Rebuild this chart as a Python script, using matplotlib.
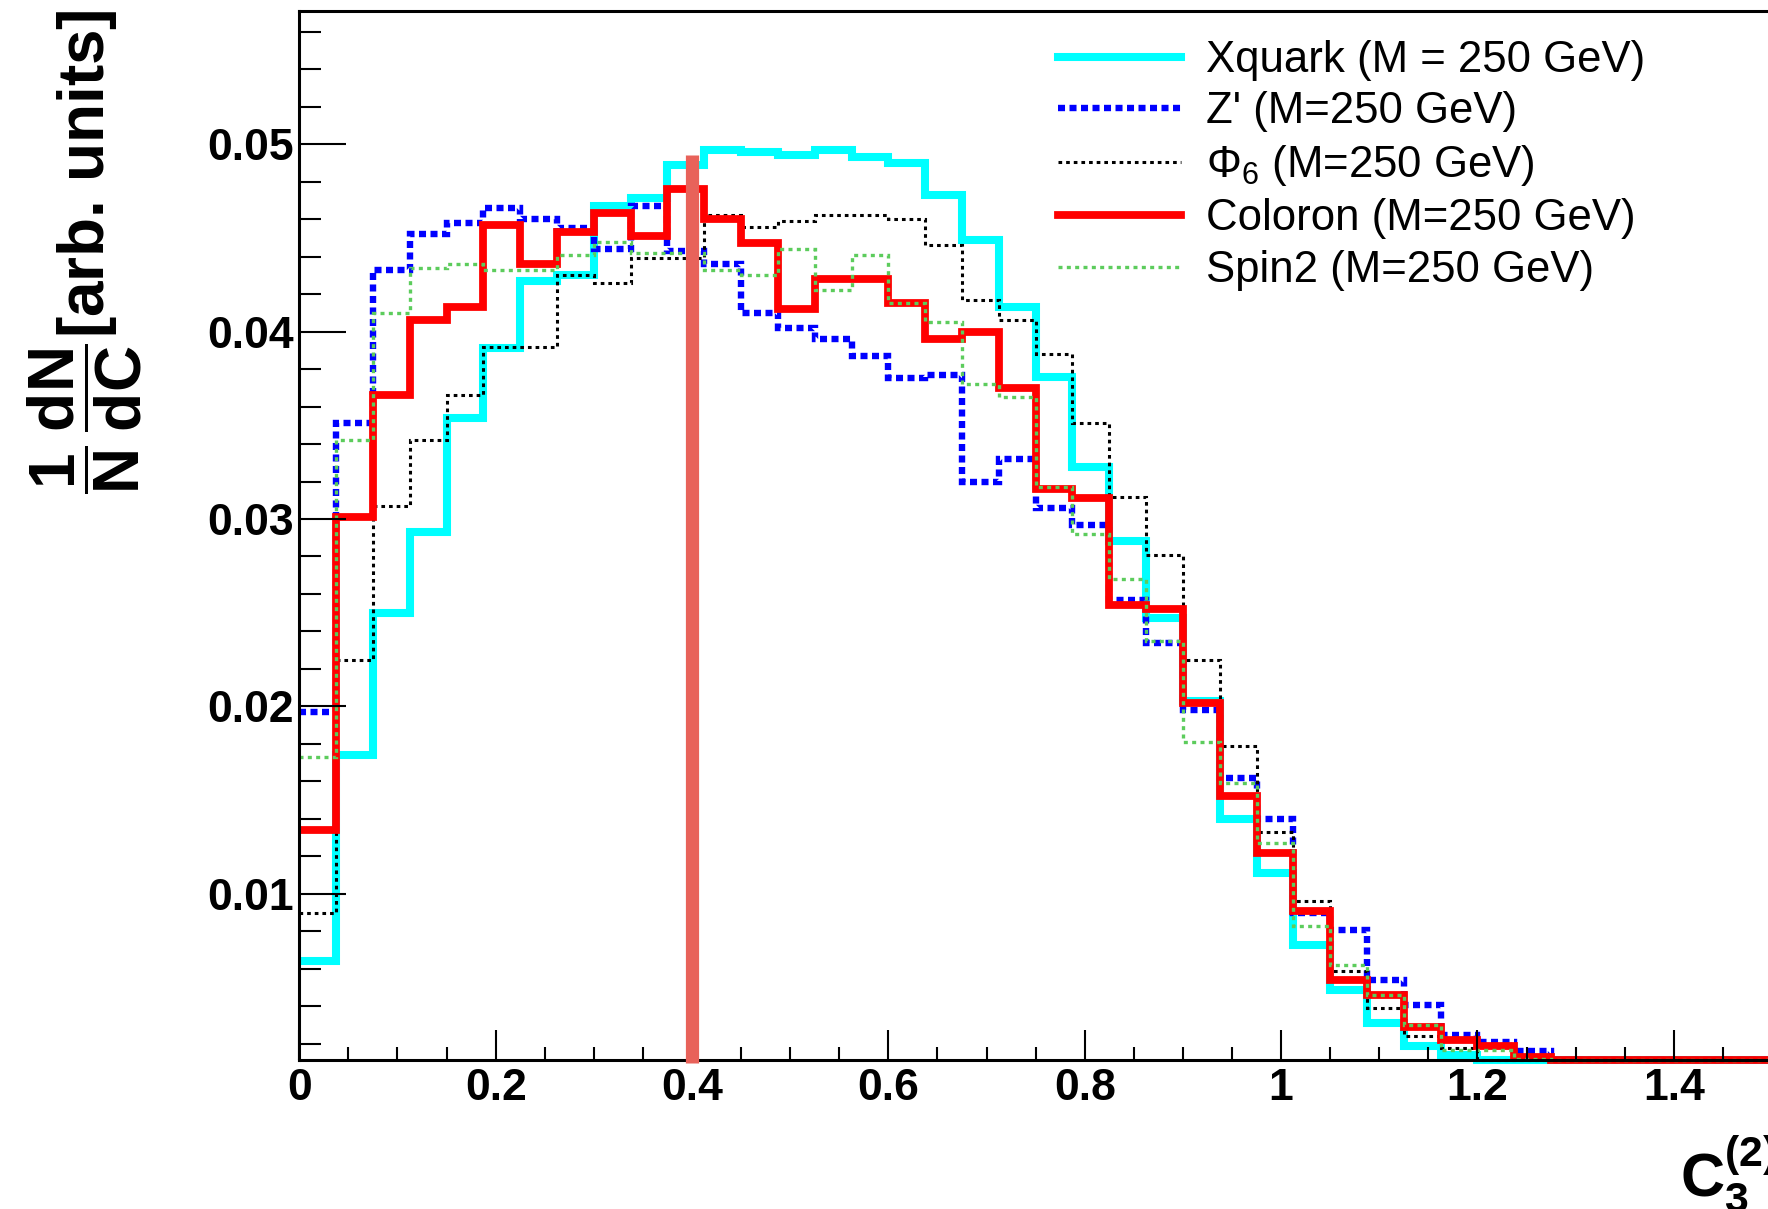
import numpy as np
import matplotlib
matplotlib.use('Agg')
from matplotlib import pyplot as plt
from matplotlib.lines import Line2D
from matplotlib.ticker import MultipleLocator, FuncFormatter

plt.rcParams['font.family'] = ['Liberation Sans', 'DejaVu Sans']
plt.rcParams['mathtext.fontset'] = 'custom'
plt.rcParams['mathtext.rm'] = 'Liberation Sans'
plt.rcParams['mathtext.it'] = 'Liberation Sans:italic'
plt.rcParams['mathtext.bf'] = 'Liberation Sans:bold'

# 40 bins of width 0.0375 on [0, 1.5]
EDGES = np.linspace(0.0, 1.5, 41)

xquark = [0.0064, 0.0174, 0.0250, 0.0293, 0.0354, 0.0391, 0.0427, 0.0430,
          0.0467, 0.0471, 0.0489, 0.0497, 0.0496, 0.0494, 0.0497, 0.0493,
          0.0490, 0.0473, 0.0449, 0.0413, 0.0376, 0.0328, 0.0288, 0.0247,
          0.0203, 0.0140, 0.0111, 0.0073, 0.0049, 0.0031, 0.0019, 0.0014,
          0.0009, 0.0005, 0.0002, 0.0001, 0.0, 0.0, 0.0, 0.0]
zprime = [0.0197, 0.0351, 0.0433, 0.0452, 0.0458, 0.0466, 0.0460, 0.0455,
          0.0444, 0.0467, 0.0443, 0.0436, 0.0410, 0.0402, 0.0396, 0.0387,
          0.0375, 0.0377, 0.0320, 0.0332, 0.0306, 0.0297, 0.0257, 0.0234,
          0.0198, 0.0162, 0.0140, 0.0090, 0.0081, 0.0054, 0.0041, 0.0025,
          0.0021, 0.0016, 0.0008, 0.0003, 0.0001, 0.0, 0.0, 0.0]
phi6 = [0.0090, 0.0225, 0.0307, 0.0342, 0.0366, 0.0392, 0.0392, 0.0430,
        0.0426, 0.0439, 0.0439, 0.0462, 0.0456, 0.0459, 0.0462, 0.0462,
        0.0460, 0.0446, 0.0417, 0.0406, 0.0388, 0.0351, 0.0312, 0.0281,
        0.0225, 0.0179, 0.0133, 0.0096, 0.0059, 0.0039, 0.0024, 0.0018,
        0.0010, 0.0006, 0.0003, 0.0001, 0.0, 0.0, 0.0, 0.0]
coloron = [0.0134, 0.0301, 0.0366, 0.0406, 0.0413, 0.0457, 0.0436, 0.0453,
           0.0463, 0.0451, 0.0476, 0.0460, 0.0447, 0.0412, 0.0428, 0.0428,
           0.0415, 0.0396, 0.0400, 0.0370, 0.0316, 0.0311, 0.0254, 0.0252,
           0.0202, 0.0152, 0.0122, 0.0091, 0.0054, 0.0046, 0.0029, 0.0022,
           0.0019, 0.0013, 0.0008, 0.0004, 0.0002, 0.0001, 0.0, 0.0]
spin2 = [0.0173, 0.0342, 0.0410, 0.0434, 0.0436, 0.0433, 0.0433, 0.0441,
         0.0448, 0.0442, 0.0442, 0.0433, 0.0430, 0.0444, 0.0422, 0.0441,
         0.0415, 0.0405, 0.0372, 0.0365, 0.0317, 0.0292, 0.0268, 0.0235,
         0.0181, 0.0159, 0.0127, 0.0083, 0.0062, 0.0046, 0.0030, 0.0017,
         0.0017, 0.0012, 0.0008, 0.0004, 0.0002, 0.0001, 0.0, 0.0]

labels = ["Xquark (M = 250 GeV)", "Z' (M=250 GeV)", r"$\Phi_6$ (M=250 GeV)",
          "Coloron (M=250 GeV)", "Spin2 (M=250 GeV)"]

YMIN, YMAX = 0.00114, 0.0571
MARK_X, MARK_TOP = 0.4, 0.0494   # hand-drawn marker line

styles = [
    dict(color='#00ffff', lw=5.8, ls='-'),
    dict(color='#0000ff', lw=4.6, ls=(0, (1.1, 0.7))),
    dict(color='#000000', lw=2.2, ls=(0, (1.2, 1.3))),
    dict(color='#ff0000', lw=5.6, ls='-'),
    dict(color='#5ccc5c', lw=2.4, ls=(0, (1.2, 1.3))),
]

fig = plt.figure(figsize=(17.68, 12.09), dpi=100)
ax = fig.add_axes([299.3 / 1768, 149 / 1209, 1472.7 / 1768, 1049 / 1209])

handles = []
for vals, st in zip([xquark, zprime, phi6, coloron, spin2], styles):
    # values below the axis minimum are drawn on the axis, like ROOT does
    v = np.clip(np.array(vals), YMIN, None)
    ax.stairs(v, EDGES, baseline=None, color=st['color'], lw=st['lw'],
              linestyle=st['ls'], clip_on=False)
    handles.append(Line2D([], [], color=st['color'], lw=st['lw'], ls=st['ls']))

ax.vlines(MARK_X, 0.0010, MARK_TOP, color='#e8625a', lw=9.5, clip_on=False, zorder=5)

ax.set_xlim(0, 1.5)
ax.set_ylim(YMIN, YMAX)
ax.xaxis.set_major_locator(MultipleLocator(0.2))
ax.xaxis.set_minor_locator(MultipleLocator(0.05))
ax.yaxis.set_major_locator(MultipleLocator(0.01))
ax.yaxis.set_minor_locator(MultipleLocator(0.002))
ax.xaxis.set_major_formatter(FuncFormatter(lambda v, p: f"{v:g}"))
ax.yaxis.set_major_formatter(FuncFormatter(lambda v, p: f"{v:g}"))

ax.tick_params(which='both', direction='in', top=False, right=False, width=1.5,
               labelsize=32)
ax.xaxis.set_tick_params(which='major', length=21.6, pad=5.5)
ax.xaxis.set_tick_params(which='minor', length=9.4)
ax.yaxis.set_tick_params(which='major', length=34, pad=4)
ax.yaxis.set_tick_params(which='minor', length=16)
for lab in ax.get_xticklabels() + ax.get_yticklabels():
    lab.set_fontweight('bold')
for s in ['left', 'bottom', 'top']:
    ax.spines[s].set_linewidth(2.2)
ax.spines['right'].set_visible(False)

fig.legend(handles, labels, loc='upper left', bbox_to_anchor=(1058 / 1768, 0.967),
           frameon=False, fontsize=31.5, handlelength=2.8, handletextpad=0.58,
           labelspacing=0.24, borderpad=0, borderaxespad=0)

fig.text(85 / 1768, 1 - 9 / 1209,
         r'$\dfrac{\mathbf{1}}{\mathbf{N}}\,\dfrac{\mathbf{dN}}{\mathbf{dC}}$[arb. units]',
         rotation=90, ha='center', va='top', fontsize=46, fontweight='bold')
fig.text(1680 / 1768, 12 / 1209, r'$\mathbf{C}_{\mathbf{3}}^{\mathbf{(2)}}$',
         ha='left', va='baseline', fontsize=44)

fig.savefig('out.png', dpi=100)
